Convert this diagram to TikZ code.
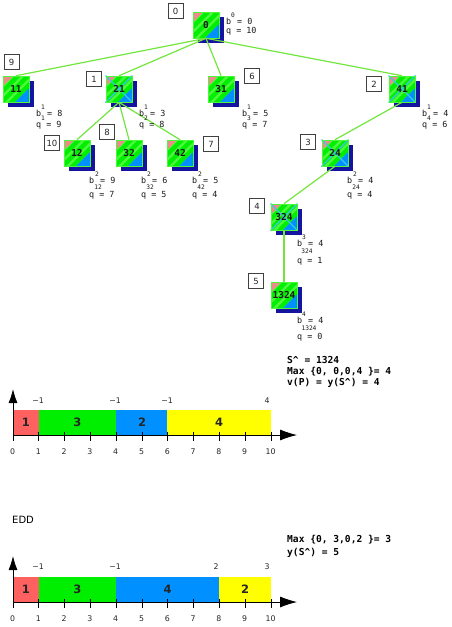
\documentclass[tikz,border=0pt]{standalone}
\usepackage{fontspec}
\setmainfont{DejaVu Sans}
\setmonofont{DejaVu Sans Mono}
\usetikzlibrary{arrows.meta,calc}
\definecolor{cgreen}{HTML}{00EE00}
\definecolor{cstripe}{HTML}{4CF83C}
\definecolor{cred}{HTML}{FF6060}
\definecolor{cblue}{HTML}{0090FF}
\definecolor{cyel}{HTML}{FFFF00}
\definecolor{cpink}{HTML}{F08A8A}
\definecolor{cedge}{HTML}{72E63C}
\definecolor{cnavy}{HTML}{1414A0}
\definecolor{cxline}{HTML}{38C8E8}
\tikzset{
  sq/.style={rectangle,minimum size=26pt,inner sep=0pt,draw=cstripe,line width=.6pt,
    font=\ttfamily\bfseries\fontsize{9.5}{9.5}\selectfont,text=black!90},
  tag/.style={rectangle,draw=black!75,fill=white,line width=.7pt,minimum size=15pt,inner sep=0pt,
    font=\fontsize{8.5}{8.5}\selectfont,text=black!85},
  link/.style={cedge,line width=1.2pt},
  txt/.style={inner sep=0pt,font=\ttfamily\fontsize{8.4}{8.4}\selectfont,text=black!90},
  tiny/.style={inner sep=0pt,font=\ttfamily\fontsize{6.2}{6.2}\selectfont,text=black!90},
  bold/.style={inner sep=0pt,anchor=west,font=\ttfamily\bfseries\fontsize{9.6}{9.6}\selectfont},
  axlab/.style={inner sep=0pt,font=\fontsize{7.8}{7.8}\selectfont,text=black!85},
  barlab/.style={inner sep=0pt,font=\bfseries\fontsize{11.5}{11.5}\selectfont,text=black!85},
  axis/.style={black,line width=.8pt},
  harrow/.style={-{Latex[length=17pt,width=11pt]},black,line width=.8pt},
  varrow/.style={-{Latex[length=14pt,width=9pt]},black,line width=.8pt},
}
\newcommand{\sqbody}{%
    \fill[cnavy] (4.5,4.5) rectangle (30.5,30.5);
    \fill[cgreen] (0,0) rectangle (26,26);
    \begin{scope}
      \clip (0,0) rectangle (26,26);
      \foreach \k in {8,18,28,38,48}{
        \fill[cstripe] (\k,0) -- (\k+3.5,0) -- (\k+3.5-30,30) -- (\k-30,30) -- cycle;}
      \fill[cpink] (0,0) -- (10,0) -- (0,10) -- cycle;
      \fill[cblue] (26,12) -- (26,26) -- (12,26) -- cycle;
    \end{scope}
}
% square body: name, centre x, centre y, label
\newcommand{\sqn}[4]{%
  \begin{scope}[shift={(#2-13,#3-13)}]
    \sqbody
  \end{scope}
  \node[sq] (#1) at (#2,#3) {#4};
}
% same with the crossing lines under the label
\newcommand{\sqx}[4]{%
  \begin{scope}[shift={(#2-13,#3-13)}]
    \sqbody
    \draw[cxline,line width=1.1pt] (-.5,-.5) -- (26.5,26.5) (26.5,-.5) -- (-.5,26.5);
  \end{scope}
  \node[sq] (#1) at (#2,#3) {#4};
}
\newcommand{\sdy}{5}
% id, x, y, sup, sub, value, sup x offset, sub x offset
\newcommand{\blab}[8]{%
  \node[txt,anchor=west] (b#1) at (#2,#3) {b};
  \node[tiny] (u#1) at ($(b#1.west)+(#7,-5.5)$) {#4};
  \node[tiny] (d#1) at ($(b#1.west)+(#8,\sdy)$) {#5};
  \node[txt,anchor=west] (v#1) at ($(b#1.west)+(11,0)$) {= #6};
}
% id, x, y, value
\newcommand{\qlab}[4]{\node[txt,anchor=west] (q#1) at (#2,#3) {q = #4};}
\begin{document}
\begin{tikzpicture}[x=1pt,y=-1pt]
\useasboundingbox (0,0) rectangle (452,627);
% tree nodes
\sqn{n0}{206}{25}{0}
\sqn{n11}{16}{89}{11}
\sqx{n21}{119}{89}{21}
\sqn{n31}{221}{89}{31}
\sqx{n41}{402}{89}{41}
\sqn{n12}{77}{153}{12}
\sqn{n32}{129}{153}{32}
\sqn{n42}{180}{153}{42}
\sqx{n24}{335}{153}{24}
\sqx{n324}{284}{217}{324}
\sqn{n1324}{284}{295}{1324}
% connectors
\draw[link] (n0.south) -- (n11.north);
\draw[link] (n0.south) -- (n21.north);
\draw[link] (n0.south) -- (n31.north);
\draw[link] (n0.south) -- (n41.north);
\draw[link] (n21.south) -- (n12.north);
\draw[link] (n21.south) -- (n32.north);
\draw[link] (n21.south) -- (n42.north);
\draw[link] (n41.south) -- (n24.north);
\draw[link] (n24.south) -- (n324.north);
\draw[link] (n324.south) -- (n1324.north);
% order tags
\node[tag] (t0) at (175.5,11) {0};
\node[tag] (t9) at (11.5,62) {9};
\node[tag] (t1) at (94,79) {1};
\node[tag] (t10) at (52,143) {10};
\node[tag] (t8) at (107,132) {8};
\node[tag] (t7) at (211,144) {7};
\node[tag] (t6) at (252,76) {6};
\node[tag] (t2) at (374,84) {2};
\node[tag] (t3) at (308,142) {3};
\node[tag] (t4) at (257,206) {4};
\node[tag] (t5) at (256,281) {5};
% bounds
\blab{a}{226}{21}{0}{}{0}{7}{7}
\qlab{a}{226}{31}{10}
\blab{b}{36}{113}{1}{1}{8}{7}{7}
\qlab{b}{36}{125}{9}
\blab{c}{139}{113}{1}{2}{3}{7}{7}
\qlab{c}{139}{125}{8}
\blab{e}{242}{113}{1}{3}{5}{7}{7}
\qlab{e}{242}{125}{7}
\blab{f}{422}{113}{1}{4}{4}{7}{7}
\qlab{f}{422}{125}{6}
\renewcommand{\sdy}{7}
\blab{g}{89}{180}{2}{12}{9}{8}{9}
\qlab{g}{89}{195}{7}
\blab{h}{141}{180}{2}{32}{6}{8}{9}
\qlab{h}{141}{195}{5}
\blab{i}{192}{180}{2}{42}{5}{8}{9}
\qlab{i}{192}{195}{4}
\blab{j}{347}{180}{2}{24}{4}{8}{9}
\qlab{j}{347}{195}{4}
\renewcommand{\sdy}{8}
\blab{k}{297}{243}{3}{324}{4}{7}{10}
\qlab{k}{297}{261}{1}
\blab{l}{297}{320}{4}{1324}{4}{7}{12}
\qlab{l}{297}{337}{0}
% summary text
\node[bold] (s1) at (287,360) {S\^{} = 1324};
\node[bold] (s2) at (287,371.5) {Max \{0, 0,0,4 \}= 4};
\node[bold] (s3) at (287,383) {v(P) = y(S\^{}) = 4};
% first schedule
\fill[cred] (13,410) rectangle (39,435);
\fill[cgreen] (39,410) rectangle (116,435);
\fill[cblue] (116,410) rectangle (167,435);
\fill[cyel] (167,410) rectangle (271,435);
\node[barlab] (p1) at (26,422) {1};
\node[barlab] (p2) at (77.5,422) {3};
\node[barlab] (p3) at (142,422) {2};
\node[barlab] (p4) at (219,422) {4};
\coordinate (o1) at (13,435);
\coordinate (xe1) at (297,435);
\coordinate (ye1) at (13,389);
\draw[harrow] (o1) -- (xe1);
\draw[varrow] (o1) -- (ye1);
\foreach \i in {0,...,10}{
  \draw[axis] (13+25.8*\i,432) -- (13+25.8*\i,441);
  \node[axlab] (xa\i) at (12.5+25.8*\i,452) {\i};}
\node[axlab] (la1) at (38,401) {−1};
\node[axlab] (la2) at (115,401) {−1};
\node[axlab] (la3) at (167,401) {−1};
\node[axlab] (la4) at (267,401) {4};
% EDD
\node[inner sep=0pt,anchor=west,font=\fontsize{10}{10}\selectfont] (edd) at (12,520) {EDD};
\node[bold] (s4) at (287,540) {Max \{0, 3,0,2 \}= 3};
\node[bold] (s5) at (287,553) {y(S\^{}) = 5};
\fill[cred] (13,577) rectangle (39,602);
\fill[cgreen] (39,577) rectangle (116,602);
\fill[cblue] (116,577) rectangle (219,602);
\fill[cyel] (219,577) rectangle (271,602);
\node[barlab] (r1) at (26,589) {1};
\node[barlab] (r2) at (77.5,589) {3};
\node[barlab] (r3) at (167.5,589) {4};
\node[barlab] (r4) at (245,589) {2};
\coordinate (o2) at (13,602);
\coordinate (xe2) at (297,602);
\coordinate (ye2) at (13,556);
\draw[harrow] (o2) -- (xe2);
\draw[varrow] (o2) -- (ye2);
\foreach \i in {0,...,10}{
  \draw[axis] (13+25.8*\i,599) -- (13+25.8*\i,608);
  \node[axlab] (xb\i) at (12.5+25.8*\i,619) {\i};}
\node[axlab] (lb1) at (38,567) {−1};
\node[axlab] (lb2) at (115,567) {−1};
\node[axlab] (lb3) at (216,567) {2};
\node[axlab] (lb4) at (267,567) {3};
\end{tikzpicture}
\end{document}
